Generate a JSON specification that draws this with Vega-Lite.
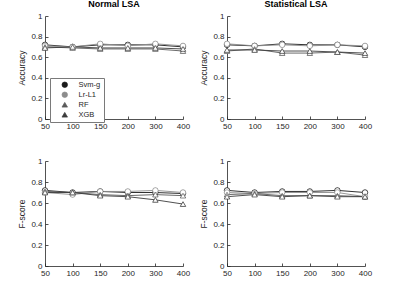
{
  "$schema": "https://vega.github.io/schema/vega-lite/v6.json",
  "padding": {"left": 17, "top": 0, "right": 5, "bottom": 5},
  "background": "white",
  "config": {
    "view": {"stroke": null},
    "font": "Liberation Sans",
    "axis": {
      "grid": false,
      "domainColor": "#262626",
      "tickColor": "#262626",
      "labelColor": "#262626",
      "titleColor": "#262626",
      "labelFont": "Liberation Sans",
      "titleFont": "Liberation Sans",
      "labelFontSize": 8,
      "titleFontSize": 8.5,
      "titleFontWeight": "normal",
      "tickSize": -3,
      "domainWidth": 0.8,
      "tickWidth": 0.8
    },
    "axisY": {"labelPadding": 6, "titlePadding": 4},
    "axisX": {"labelPadding": 6, "labelAngle": 0},
    "title": {"font": "Liberation Sans", "fontSize": 9, "fontWeight": "bold", "color": "#000", "offset": 3}
  },
  "datasets": {
    "d": [
      {"m":"Normal LSA","metric":"Accuracy","model":"Svm-g","n":"50","v":0.72},
      {"m":"Normal LSA","metric":"Accuracy","model":"Svm-g","n":"100","v":0.70},
      {"m":"Normal LSA","metric":"Accuracy","model":"Svm-g","n":"150","v":0.72},
      {"m":"Normal LSA","metric":"Accuracy","model":"Svm-g","n":"200","v":0.72},
      {"m":"Normal LSA","metric":"Accuracy","model":"Svm-g","n":"300","v":0.72},
      {"m":"Normal LSA","metric":"Accuracy","model":"Svm-g","n":"400","v":0.70},
      {"m":"Normal LSA","metric":"Accuracy","model":"Lr-L1","n":"50","v":0.71},
      {"m":"Normal LSA","metric":"Accuracy","model":"Lr-L1","n":"100","v":0.70},
      {"m":"Normal LSA","metric":"Accuracy","model":"Lr-L1","n":"150","v":0.73},
      {"m":"Normal LSA","metric":"Accuracy","model":"Lr-L1","n":"200","v":0.71},
      {"m":"Normal LSA","metric":"Accuracy","model":"Lr-L1","n":"300","v":0.73},
      {"m":"Normal LSA","metric":"Accuracy","model":"Lr-L1","n":"400","v":0.71},
      {"m":"Normal LSA","metric":"Accuracy","model":"RF","n":"50","v":0.70},
      {"m":"Normal LSA","metric":"Accuracy","model":"RF","n":"100","v":0.69},
      {"m":"Normal LSA","metric":"Accuracy","model":"RF","n":"150","v":0.68},
      {"m":"Normal LSA","metric":"Accuracy","model":"RF","n":"200","v":0.68},
      {"m":"Normal LSA","metric":"Accuracy","model":"RF","n":"300","v":0.68},
      {"m":"Normal LSA","metric":"Accuracy","model":"RF","n":"400","v":0.66},
      {"m":"Normal LSA","metric":"Accuracy","model":"XGB","n":"50","v":0.69},
      {"m":"Normal LSA","metric":"Accuracy","model":"XGB","n":"100","v":0.70},
      {"m":"Normal LSA","metric":"Accuracy","model":"XGB","n":"150","v":0.69},
      {"m":"Normal LSA","metric":"Accuracy","model":"XGB","n":"200","v":0.69},
      {"m":"Normal LSA","metric":"Accuracy","model":"XGB","n":"300","v":0.69},
      {"m":"Normal LSA","metric":"Accuracy","model":"XGB","n":"400","v":0.68},

      {"m":"Statistical LSA","metric":"Accuracy","model":"Svm-g","n":"50","v":0.72},
      {"m":"Statistical LSA","metric":"Accuracy","model":"Svm-g","n":"100","v":0.71},
      {"m":"Statistical LSA","metric":"Accuracy","model":"Svm-g","n":"150","v":0.73},
      {"m":"Statistical LSA","metric":"Accuracy","model":"Svm-g","n":"200","v":0.72},
      {"m":"Statistical LSA","metric":"Accuracy","model":"Svm-g","n":"300","v":0.72},
      {"m":"Statistical LSA","metric":"Accuracy","model":"Svm-g","n":"400","v":0.70},
      {"m":"Statistical LSA","metric":"Accuracy","model":"Lr-L1","n":"50","v":0.73},
      {"m":"Statistical LSA","metric":"Accuracy","model":"Lr-L1","n":"100","v":0.71},
      {"m":"Statistical LSA","metric":"Accuracy","model":"Lr-L1","n":"150","v":0.72},
      {"m":"Statistical LSA","metric":"Accuracy","model":"Lr-L1","n":"200","v":0.71},
      {"m":"Statistical LSA","metric":"Accuracy","model":"Lr-L1","n":"300","v":0.72},
      {"m":"Statistical LSA","metric":"Accuracy","model":"Lr-L1","n":"400","v":0.71},
      {"m":"Statistical LSA","metric":"Accuracy","model":"RF","n":"50","v":0.66},
      {"m":"Statistical LSA","metric":"Accuracy","model":"RF","n":"100","v":0.68},
      {"m":"Statistical LSA","metric":"Accuracy","model":"RF","n":"150","v":0.64},
      {"m":"Statistical LSA","metric":"Accuracy","model":"RF","n":"200","v":0.64},
      {"m":"Statistical LSA","metric":"Accuracy","model":"RF","n":"300","v":0.65},
      {"m":"Statistical LSA","metric":"Accuracy","model":"RF","n":"400","v":0.62},
      {"m":"Statistical LSA","metric":"Accuracy","model":"XGB","n":"50","v":0.67},
      {"m":"Statistical LSA","metric":"Accuracy","model":"XGB","n":"100","v":0.67},
      {"m":"Statistical LSA","metric":"Accuracy","model":"XGB","n":"150","v":0.66},
      {"m":"Statistical LSA","metric":"Accuracy","model":"XGB","n":"200","v":0.66},
      {"m":"Statistical LSA","metric":"Accuracy","model":"XGB","n":"300","v":0.65},
      {"m":"Statistical LSA","metric":"Accuracy","model":"XGB","n":"400","v":0.64},

      {"m":"Normal LSA","metric":"F-score","model":"Svm-g","n":"50","v":0.72},
      {"m":"Normal LSA","metric":"F-score","model":"Svm-g","n":"100","v":0.70},
      {"m":"Normal LSA","metric":"F-score","model":"Svm-g","n":"150","v":0.71},
      {"m":"Normal LSA","metric":"F-score","model":"Svm-g","n":"200","v":0.70},
      {"m":"Normal LSA","metric":"F-score","model":"Svm-g","n":"300","v":0.70},
      {"m":"Normal LSA","metric":"F-score","model":"Svm-g","n":"400","v":0.69},
      {"m":"Normal LSA","metric":"F-score","model":"Lr-L1","n":"50","v":0.70},
      {"m":"Normal LSA","metric":"F-score","model":"Lr-L1","n":"100","v":0.68},
      {"m":"Normal LSA","metric":"F-score","model":"Lr-L1","n":"150","v":0.71},
      {"m":"Normal LSA","metric":"F-score","model":"Lr-L1","n":"200","v":0.71},
      {"m":"Normal LSA","metric":"F-score","model":"Lr-L1","n":"300","v":0.72},
      {"m":"Normal LSA","metric":"F-score","model":"Lr-L1","n":"400","v":0.70},
      {"m":"Normal LSA","metric":"F-score","model":"RF","n":"50","v":0.71},
      {"m":"Normal LSA","metric":"F-score","model":"RF","n":"100","v":0.70},
      {"m":"Normal LSA","metric":"F-score","model":"RF","n":"150","v":0.68},
      {"m":"Normal LSA","metric":"F-score","model":"RF","n":"200","v":0.67},
      {"m":"Normal LSA","metric":"F-score","model":"RF","n":"300","v":0.68},
      {"m":"Normal LSA","metric":"F-score","model":"RF","n":"400","v":0.67},
      {"m":"Normal LSA","metric":"F-score","model":"XGB","n":"50","v":0.70},
      {"m":"Normal LSA","metric":"F-score","model":"XGB","n":"100","v":0.70},
      {"m":"Normal LSA","metric":"F-score","model":"XGB","n":"150","v":0.67},
      {"m":"Normal LSA","metric":"F-score","model":"XGB","n":"200","v":0.66},
      {"m":"Normal LSA","metric":"F-score","model":"XGB","n":"300","v":0.63},
      {"m":"Normal LSA","metric":"F-score","model":"XGB","n":"400","v":0.59},

      {"m":"Statistical LSA","metric":"F-score","model":"Svm-g","n":"50","v":0.72},
      {"m":"Statistical LSA","metric":"F-score","model":"Svm-g","n":"100","v":0.70},
      {"m":"Statistical LSA","metric":"F-score","model":"Svm-g","n":"150","v":0.71},
      {"m":"Statistical LSA","metric":"F-score","model":"Svm-g","n":"200","v":0.71},
      {"m":"Statistical LSA","metric":"F-score","model":"Svm-g","n":"300","v":0.72},
      {"m":"Statistical LSA","metric":"F-score","model":"Svm-g","n":"400","v":0.70},
      {"m":"Statistical LSA","metric":"F-score","model":"Lr-L1","n":"50","v":0.70},
      {"m":"Statistical LSA","metric":"F-score","model":"Lr-L1","n":"100","v":0.69},
      {"m":"Statistical LSA","metric":"F-score","model":"Lr-L1","n":"150","v":0.70},
      {"m":"Statistical LSA","metric":"F-score","model":"Lr-L1","n":"200","v":0.70},
      {"m":"Statistical LSA","metric":"F-score","model":"Lr-L1","n":"300","v":0.70},
      {"m":"Statistical LSA","metric":"F-score","model":"Lr-L1","n":"400","v":0.66},
      {"m":"Statistical LSA","metric":"F-score","model":"RF","n":"50","v":0.68},
      {"m":"Statistical LSA","metric":"F-score","model":"RF","n":"100","v":0.69},
      {"m":"Statistical LSA","metric":"F-score","model":"RF","n":"150","v":0.67},
      {"m":"Statistical LSA","metric":"F-score","model":"RF","n":"200","v":0.67},
      {"m":"Statistical LSA","metric":"F-score","model":"RF","n":"300","v":0.67},
      {"m":"Statistical LSA","metric":"F-score","model":"RF","n":"400","v":0.66},
      {"m":"Statistical LSA","metric":"F-score","model":"XGB","n":"50","v":0.66},
      {"m":"Statistical LSA","metric":"F-score","model":"XGB","n":"100","v":0.68},
      {"m":"Statistical LSA","metric":"F-score","model":"XGB","n":"150","v":0.66},
      {"m":"Statistical LSA","metric":"F-score","model":"XGB","n":"200","v":0.67},
      {"m":"Statistical LSA","metric":"F-score","model":"XGB","n":"300","v":0.66},
      {"m":"Statistical LSA","metric":"F-score","model":"XGB","n":"400","v":0.66}
    ]
  },
  "data": {"name": "d"},
  "bounds": "flush",
  "columns": 2,
  "spacing": {"row": 42, "column": 44},
  "resolve": {"legend": {"color": "independent", "shape": "independent"}},
  "concat": [
    {
      "width": 138, "height": 103,
      "title": "Normal LSA",
      "transform": [{"filter": "datum.m == 'Normal LSA' && datum.metric == 'Accuracy'"}],
      "encoding": {
        "x": {"field": "n", "type": "ordinal", "sort": ["50","100","150","200","300","400"], "scale": {"type": "point", "padding": 0}, "axis": {"title": null}},
        "y": {"field": "v", "type": "quantitative", "scale": {"domain": [0, 1]}, "axis": {"title": "Accuracy", "values": [0,0.2,0.4,0.6,0.8,1], "format": "~g"}},
        "color": {"field": "model", "type": "nominal", "scale": {"domain": ["Svm-g","Lr-L1","RF","XGB"], "range": ["#1a1a1a","#8c8c8c","#5a5a5a","#3c3c3c"]},
          "legend": {"orient": "none", "legendX": 5, "legendY": 62, "title": null, "strokeColor": "#7a7a7a", "fillColor": "white", "padding": 3, "symbolSize": 30, "symbolOffset": 8, "labelOffset": 10, "rowPadding": 1, "labelFontSize": 7.5, "labelColor": "#262626", "labelFont": "Liberation Sans", "symbolStrokeWidth": 0.7}},
        "shape": {"field": "model", "type": "nominal", "scale": {"domain": ["Svm-g","Lr-L1","RF","XGB"], "range": ["circle","circle","triangle-up","triangle-up"]},
          "legend": {"orient": "none", "legendX": 5, "legendY": 62, "title": null, "strokeColor": "#7a7a7a", "fillColor": "white", "padding": 3, "symbolSize": 30, "symbolOffset": 8, "labelOffset": 10, "rowPadding": 1, "labelFontSize": 7.5, "labelColor": "#262626", "labelFont": "Liberation Sans", "symbolStrokeWidth": 0.7}}
      },
      "layer": [
        {"mark": {"type": "line", "strokeWidth": 0.9}},
        {"mark": {"type": "point", "filled": false, "fill": "white", "fillOpacity": 1, "size": 30, "strokeWidth": 0.7, "opacity": 1}}
      ]
    },
    {
      "width": 138, "height": 103,
      "title": "Statistical LSA",
      "transform": [{"filter": "datum.m == 'Statistical LSA' && datum.metric == 'Accuracy'"}],
      "encoding": {
        "x": {"field": "n", "type": "ordinal", "sort": ["50","100","150","200","300","400"], "scale": {"type": "point", "padding": 0}, "axis": {"title": null}},
        "y": {"field": "v", "type": "quantitative", "scale": {"domain": [0, 1]}, "axis": {"title": "Accuracy", "values": [0,0.2,0.4,0.6,0.8,1], "format": "~g"}},
        "color": {"field": "model", "type": "nominal", "legend": null},
        "shape": {"field": "model", "type": "nominal", "legend": null}
      },
      "layer": [
        {"mark": {"type": "line", "strokeWidth": 0.9}},
        {"mark": {"type": "point", "filled": false, "fill": "white", "fillOpacity": 1, "size": 30, "strokeWidth": 0.7, "opacity": 1}}
      ]
    },
    {
      "width": 138, "height": 105,
      "transform": [{"filter": "datum.m == 'Normal LSA' && datum.metric == 'F-score'"}],
      "encoding": {
        "x": {"field": "n", "type": "ordinal", "sort": ["50","100","150","200","300","400"], "scale": {"type": "point", "padding": 0}, "axis": {"title": null}},
        "y": {"field": "v", "type": "quantitative", "scale": {"domain": [0, 1]}, "axis": {"title": "F-score", "values": [0,0.2,0.4,0.6,0.8,1], "format": "~g"}},
        "color": {"field": "model", "type": "nominal", "legend": null},
        "shape": {"field": "model", "type": "nominal", "legend": null}
      },
      "layer": [
        {"mark": {"type": "line", "strokeWidth": 0.9}},
        {"mark": {"type": "point", "filled": false, "fill": "white", "fillOpacity": 1, "size": 30, "strokeWidth": 0.7, "opacity": 1}}
      ]
    },
    {
      "width": 138, "height": 105,
      "transform": [{"filter": "datum.m == 'Statistical LSA' && datum.metric == 'F-score'"}],
      "encoding": {
        "x": {"field": "n", "type": "ordinal", "sort": ["50","100","150","200","300","400"], "scale": {"type": "point", "padding": 0}, "axis": {"title": null}},
        "y": {"field": "v", "type": "quantitative", "scale": {"domain": [0, 1]}, "axis": {"title": "F-score", "values": [0,0.2,0.4,0.6,0.8,1], "format": "~g"}},
        "color": {"field": "model", "type": "nominal", "legend": null},
        "shape": {"field": "model", "type": "nominal", "legend": null}
      },
      "layer": [
        {"mark": {"type": "line", "strokeWidth": 0.9}},
        {"mark": {"type": "point", "filled": false, "fill": "white", "fillOpacity": 1, "size": 30, "strokeWidth": 0.7, "opacity": 1}}
      ]
    }
  ]
}
